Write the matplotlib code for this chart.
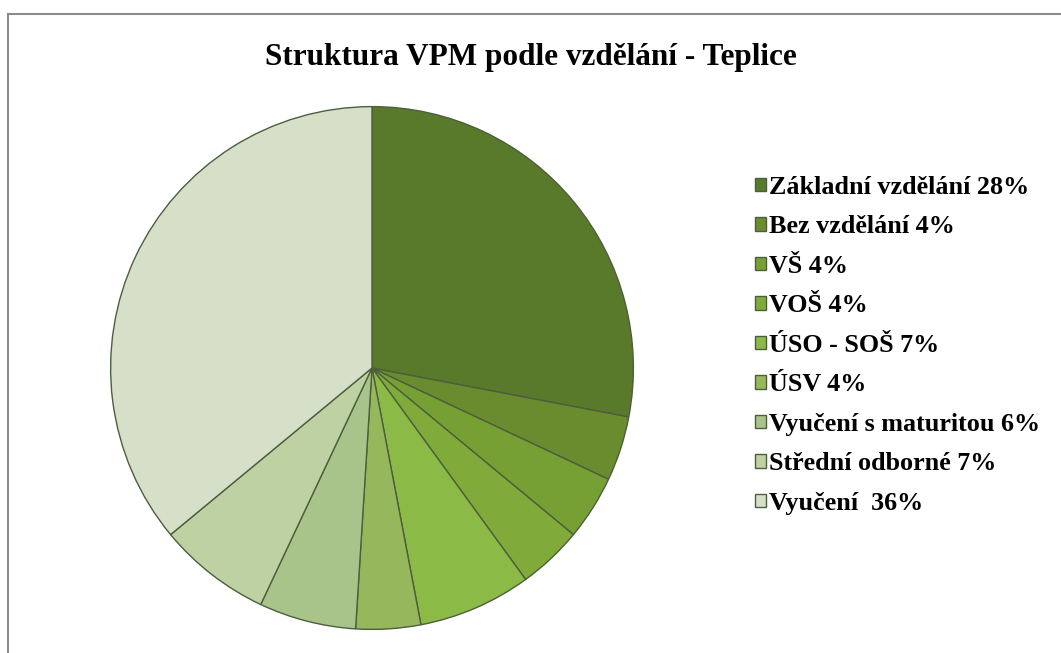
import matplotlib
matplotlib.use("Agg")
from matplotlib import pyplot as plt
from matplotlib.patches import Rectangle

W, H = 1061, 653

title = "Struktura VPM podle vzdělání - Teplice"
labels = [
    "Základní vzdělání 28%",
    "Bez vzdělání 4%",
    "VŠ 4%",
    "VOŠ 4%",
    "ÚSO - SOŠ 7%",
    "ÚSV 4%",
    "Vyučení s maturitou 6%",
    "Střední odborné 7%",
    "Vyučení  36%",
]
shares = [28, 4, 4, 4, 7, 4, 6, 7, 36]
colors = [
    "#5a7a2b", "#6a8c2e", "#77a034", "#80ab3b", "#8cba46",
    "#97b75c", "#a9c48a", "#bdd1a2", "#d6dfc8",
]

plt.rcParams["font.family"] = ["Liberation Serif", "DejaVu Serif"]

fig = plt.figure(figsize=(W / 100, H / 100), dpi=100, facecolor="w")

# chart frame (runs off the right and bottom edges)
fig.patches.append(Rectangle((7.5 / W, -0.1), 1.2, (H - 13.5) / H + 0.1,
                             transform=fig.transFigure, fill=False,
                             edgecolor="#8c8c8c", linewidth=1.5))

cx, cy, r = 372, 368, 264
ax = fig.add_axes([(cx - r) / W, (H - cy - r) / H, 2 * r / W, 2 * r / H])
wedges, _ = ax.pie(
    shares,
    colors=colors,
    startangle=90,
    counterclock=False,
    radius=1,
    wedgeprops=dict(edgecolor="#4d5e3c", linewidth=1.0),
)
ax.set_xlim(-1.01, 1.01)
ax.set_ylim(-1.01, 1.01)
ax.set_aspect("equal")
ax.axis("off")

fig.text(531 / W, 1 - 57 / H, title, ha="center", va="center",
         fontsize=22.5, fontweight="bold")

leg = fig.legend(
    wedges, labels,
    loc="upper left",
    bbox_to_anchor=(755 / W, 1 - 176 / H),
    frameon=False,
    prop=dict(size=18.8, weight="bold"),
    handlelength=0.42, handleheight=0.42,
    handletextpad=0.12,
    labelspacing=0.63,
    borderaxespad=0, borderpad=0,
)

fig.savefig("out.png", dpi=100, facecolor="w")
